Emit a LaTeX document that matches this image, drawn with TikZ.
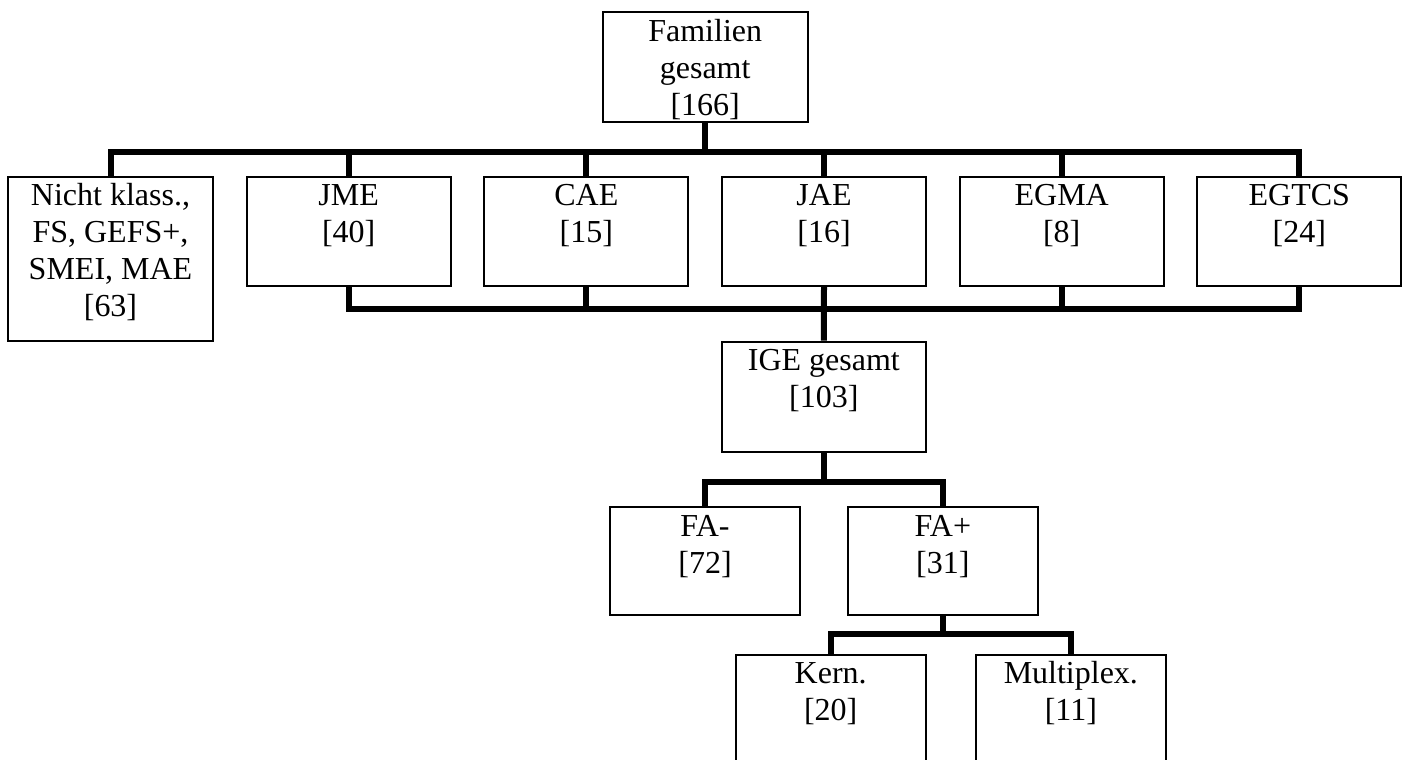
\documentclass[tikz,border=0pt]{standalone}
\usepackage{fontspec}
\setmainfont{Liberation Serif}
\begin{document}
\begin{tikzpicture}[x=1pt,y=-1pt,
  box/.style={draw, line width=2pt, inner sep=0pt, rectangle},
  txt/.style={align=center, inner sep=0pt, anchor=north, font=\fontsize{32}{37}\selectfont},
  conn/.style={line width=6pt}]
\useasboundingbox (0,0) rectangle (1406,760);
\clip (0,0) rectangle (1406,760);
% boxes
\node[box, minimum width=205pt, minimum height=110pt] (fam) at (705.2,67) {};
\node[box, minimum width=204.4pt, minimum height=164pt] (nicht) at (110.5,258.7) {};
\node[box, minimum width=204pt, minimum height=109.3pt] (jme) at (348.7,231.35) {};
\node[box, minimum width=204pt, minimum height=109.3pt] (cae) at (586.3,231.35) {};
\node[box, minimum width=204pt, minimum height=109.3pt] (jae) at (824,231.35) {};
\node[box, minimum width=204pt, minimum height=109.3pt] (egma) at (1061.7,231.35) {};
\node[box, minimum width=204pt, minimum height=109.3pt] (egtcs) at (1299.3,231.35) {};
\node[box, minimum width=204.3pt, minimum height=110pt] (ige) at (823.85,396.7) {};
\node[box, minimum width=190pt, minimum height=107.7pt] (fan) at (705,560.85) {};
\node[box, minimum width=190.3pt, minimum height=107.7pt] (fap) at (942.85,560.85) {};
\node[box, minimum width=190pt, minimum height=130pt] (kern) at (830.7,719.5) {};
\node[box, minimum width=190.3pt, minimum height=130pt] (mult) at (1070.85,719.5) {};
% texts
\node[txt] (famt) at ([yshift=-4.1pt]fam.north) {\strut Familien\\gesamt\\{}[166]};
\node[txt] (nichtt) at ([yshift=-4.1pt]nicht.north) {\strut Nicht klass.,\\FS, GEFS+,\\SMEI, MAE\\{}[63]};
\node[txt] (jmet) at ([yshift=-4.1pt]jme.north) {\strut JME\\{}[40]};
\node[txt] (caet) at ([yshift=-4.1pt]cae.north) {\strut CAE\\{}[15]};
\node[txt] (jaet) at ([yshift=-4.1pt]jae.north) {\strut JAE\\{}[16]};
\node[txt] (egmat) at ([yshift=-4.1pt]egma.north) {\strut EGMA\\{}[8]};
\node[txt] (egtcst) at ([yshift=-4.1pt]egtcs.north) {\strut EGTCS\\{}[24]};
\node[txt] (iget) at ([yshift=-4.1pt]ige.north) {\strut IGE gesamt\\{}[103]};
\node[txt] (fant) at ([yshift=-4.1pt]fan.north) {\strut FA-\\{}[72]};
\node[txt] (fapt) at ([yshift=-4.1pt]fap.north) {\strut FA+\\{}[31]};
\node[txt] (kernt) at ([yshift=-4.1pt]kern.north) {\strut Kern.\\{}[20]};
\node[txt] (multt) at ([yshift=-4.1pt]mult.north) {\strut Multiplex.\\{}[11]};
% bar levels
\coordinate (b1) at (0,152);
\coordinate (b2) at (0,309.3);
\coordinate (b3) at (0,481.7);
\coordinate (b4) at (0,634);
% connectors
\draw[conn] (fam.south) -- (fam.south |- b1);
\draw[conn] (nicht.north) -- (nicht.north |- b1) -- (egtcs.north |- b1) -- (egtcs.north);
\draw[conn] (jme.north) -- (jme.north |- b1);
\draw[conn] (cae.north) -- (cae.north |- b1);
\draw[conn] (jae.north) -- (jae.north |- b1);
\draw[conn] (egma.north) -- (egma.north |- b1);
\draw[conn] (jme.south) -- (jme.south |- b2) -- (egtcs.south |- b2) -- (egtcs.south);
\draw[conn] (cae.south) -- (cae.south |- b2);
\draw[conn] (egma.south) -- (egma.south |- b2);
\draw[conn] (jae.south) -- (ige.north);
\draw[conn] (ige.south) -- (ige.south |- b3);
\draw[conn] (fan.north) -- (fan.north |- b3) -- (fap.north |- b3) -- (fap.north);
\draw[conn] (fap.south) -- (fap.south |- b4);
\draw[conn] (kern.north) -- (kern.north |- b4) -- (mult.north |- b4) -- (mult.north);
\end{tikzpicture}
\end{document}
